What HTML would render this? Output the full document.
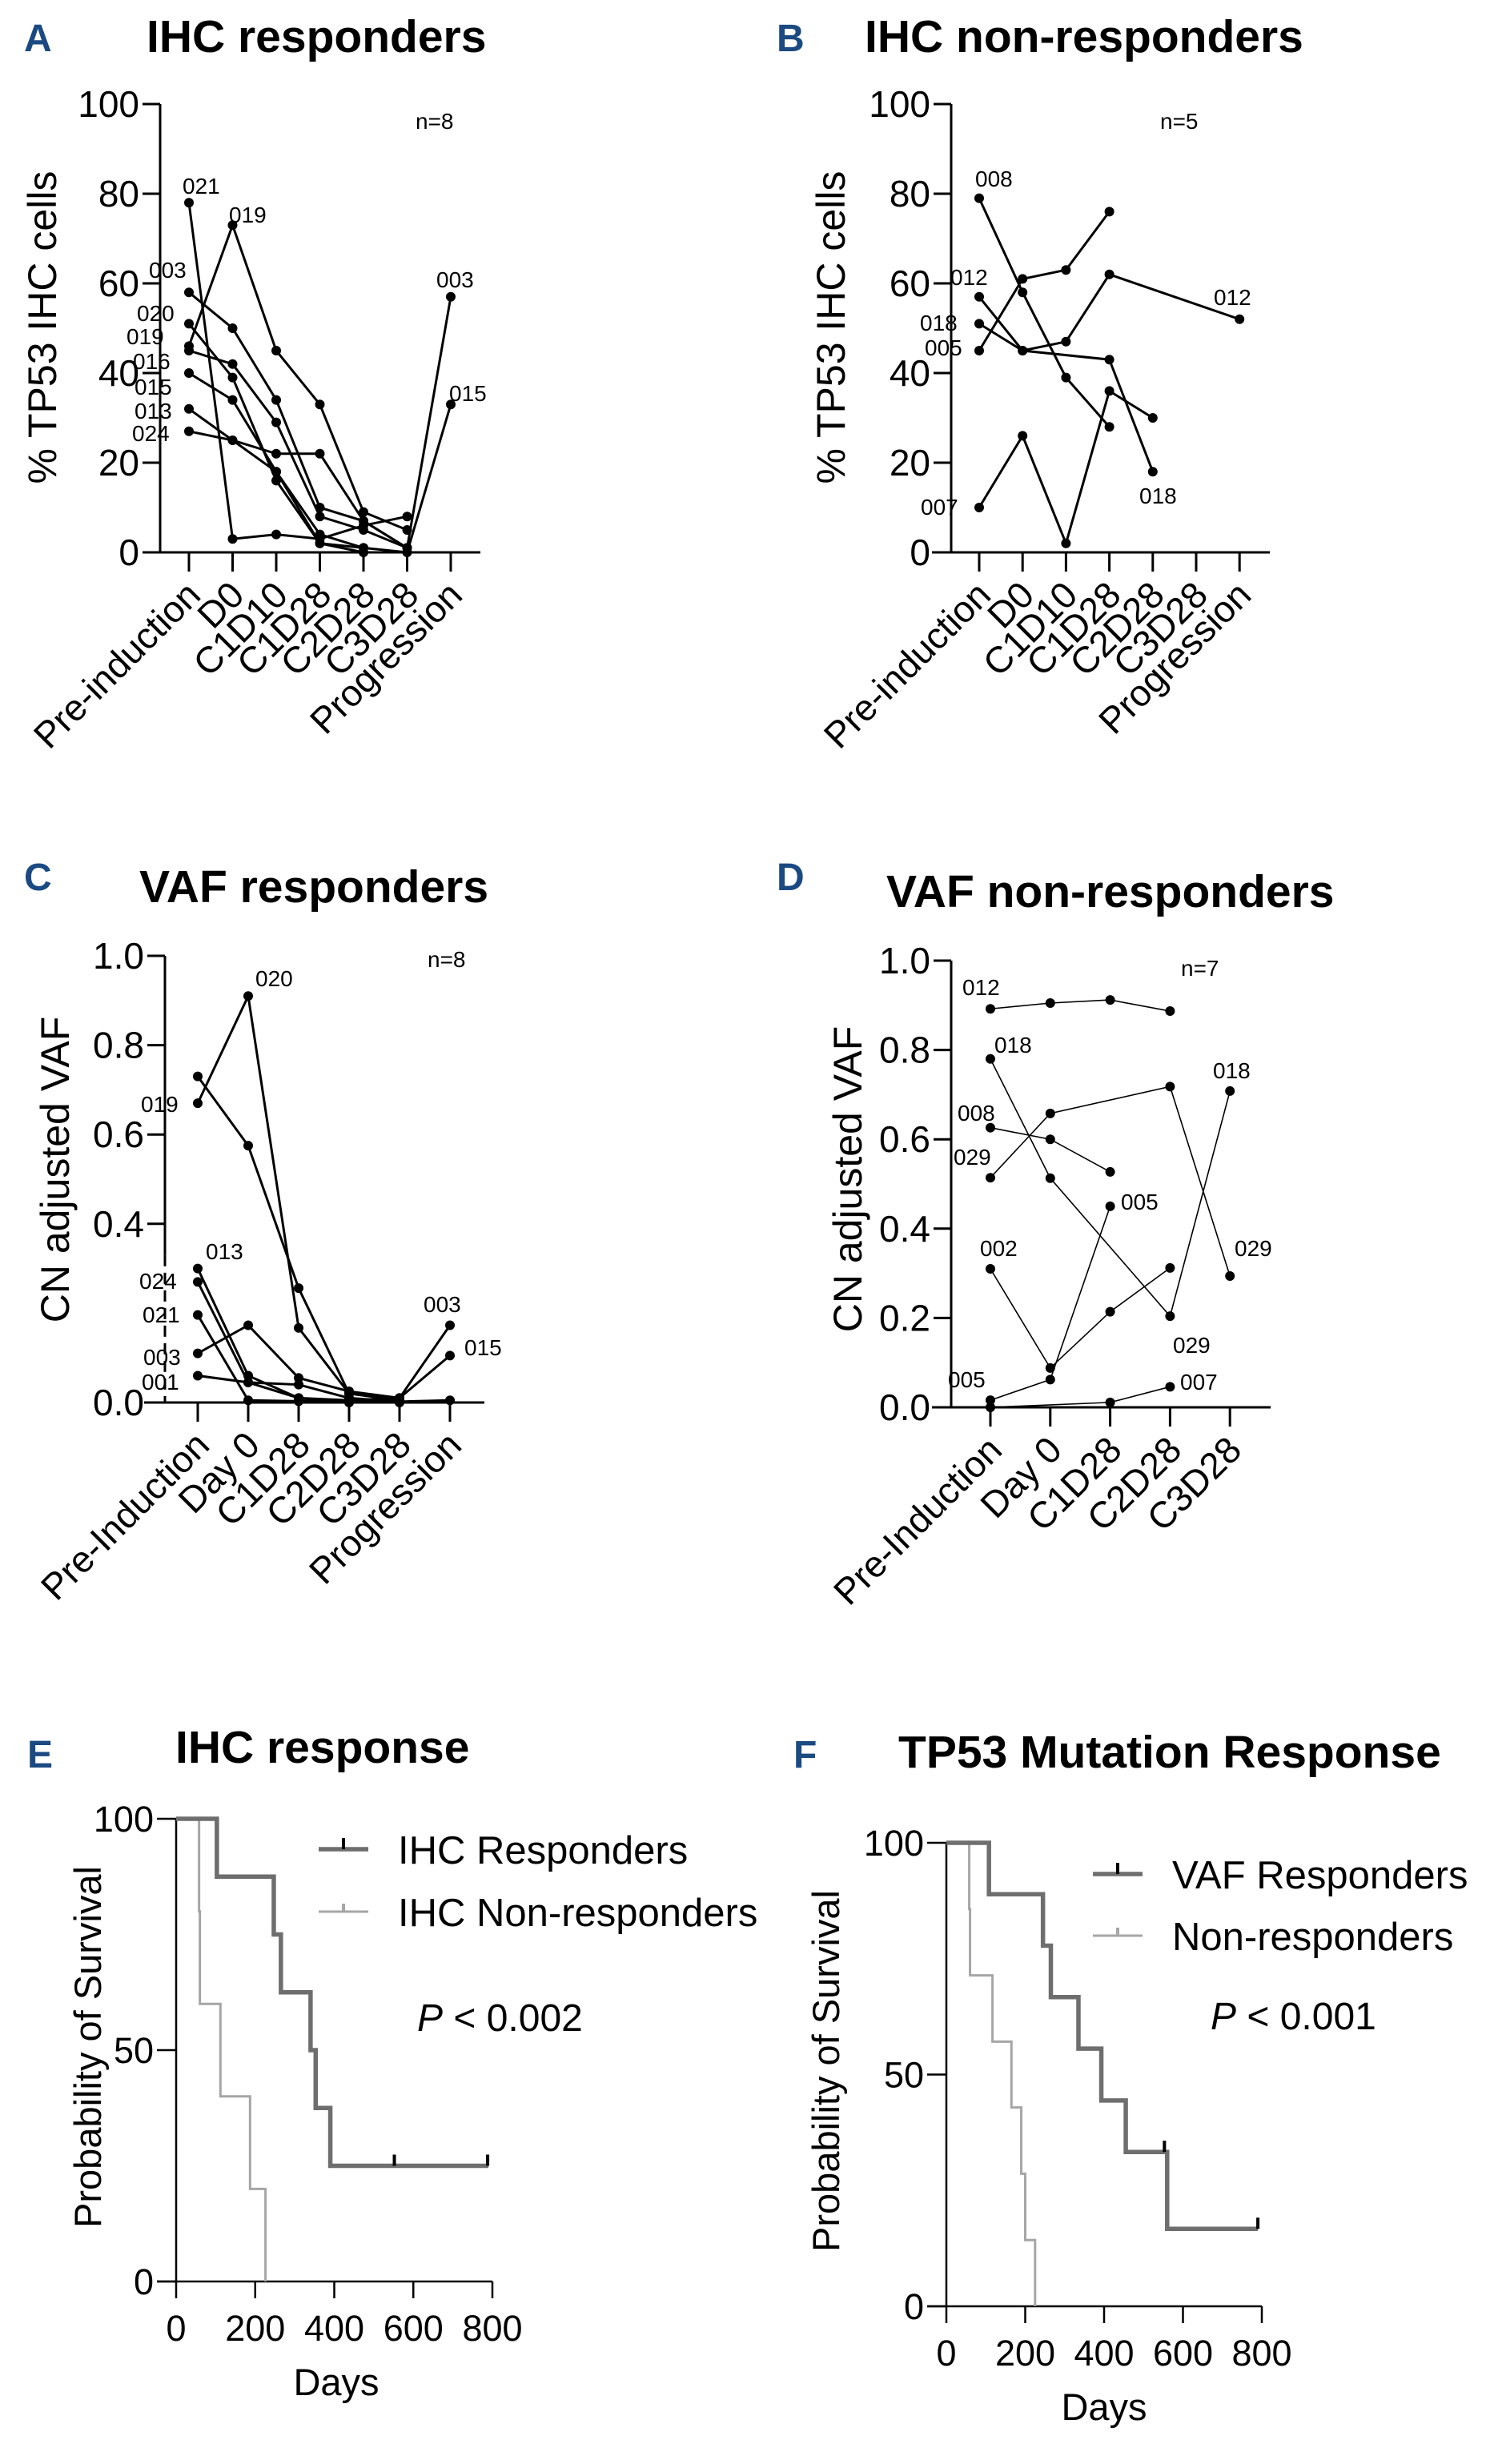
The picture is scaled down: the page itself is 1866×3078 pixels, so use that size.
<!DOCTYPE html>
<html><head><meta charset="utf-8">
<style>
html,body{margin:0;padding:0;background:#fff;}
svg{display:block;}
text{font-family:"Liberation Sans",Arial,sans-serif;}
</style></head>
<body>
<svg id="fig" width="1866" height="3078" viewBox="0 0 1866 3078" xmlns="http://www.w3.org/2000/svg">
<rect width="1866" height="3078" fill="#fff"/>
</svg>
<script>
// ===== Panel A data =====
const catsA = ["Pre-induction","D0","C1D10","C1D28","C2D28","C3D28","Progression"];
const ticksA = [0,20,40,60,80,100];
const sA021 = [78,3,4,3,6,8,null];
const sA019 = [46,73,45,33,9,5,null];
const sA003 = [58,50,34,10,7,1,57];
const sA020 = [51,39,16,2,0,null,null];
const sA016 = [45,42,29,8,5,1,null];
const sA015 = [40,34,18,4,1,0,33];
const sA013 = [32,null,18,2,1,null,null];
const sA024 = [27,25,22,22,7,1,null];
// ===== Panel B data =====
const catsB = ["Pre-induction","D0","C1D10","C1D28","C2D28","C3D28","Progression"];
const ticksB = [0,20,40,60,80,100];
const sB008 = [79,58,39,28,null,null,null];
const sB005 = [45,61,63,76,null,null,null];
const sB012 = [57,45,47,62,null,null,52];
const sB018 = [51,45,null,43,18,null,null];
const sB007 = [10,26,2,36,30,null,null];
// ===== Panel C data =====
const catsC = ["Pre-Induction","Day 0","C1D28","C2D28","C3D28","Progression"];
const ticksC = [0,0.4,0.6,0.8,1.0];
const tickLabelsC = ["0.0","0.4","0.6","0.8","1.0"];
const sC020 = [0.67,0.91,0.167,0.02,0.005,null];
const sC019 = [0.73,0.575,0.256,0.02,0.01,null];
const sC013 = [0.30,0.06,0.01,0.005,0.002,null];
const sC024 = [0.27,0.045,0.04,0.01,0.002,null];
const sC021 = [0.196,0.005,0.003,0.002,0.002,0.005];
const sC003 = [0.11,0.173,0.055,0.025,0.01,0.173];
const sC001 = [0.06,0.045,0.01,0.0,0.0,null];
const sC015 = [null,null,0.003,0.005,0.01,0.105];
// ===== Panel D data =====
const catsD = ["Pre-Induction","Day 0","C1D28","C2D28","C3D28"];
const ticksD = [0,0.2,0.4,0.6,0.8,1.0];
const tickLabelsD = ["0.0","0.2","0.4","0.6","0.8","1.0"];
const sD012 = [0.892,0.905,0.912,0.887,null];
const sD018 = [0.78,0.513,null,0.204,0.708];
const sD008 = [0.626,0.6,0.527,null,null];
const sD029 = [0.514,0.658,null,0.718,0.294];
const sD002 = [0.31,0.088,0.214,0.312,null];
const sD005 = [0.016,0.062,0.45,null,null];
const sD007 = [0.0,null,0.011,0.046,null];
// ===== Panel E data (Kaplan-Meier) =====
const xTicksKM = [0,200,400,600,800];
const yTicksKM = [0,50,100];
const eRespTimes = [0,103,247,265,340,353,390,790];
const eRespSurv = [100,87.5,75,62.5,50,37.5,25,25];
const eRespCensor = [552,788];
const eNonTimes = [0,58,60,112,187,226];
const eNonSurv = [100,80,60,40,20,0];
// ===== Panel F data =====
const fRespTimes = [0,108,245,265,335,393,455,560,790];
const fRespSurv = [100,88.9,77.8,66.7,55.6,44.4,33.3,16.7,16.7];
const fRespCensor = [553,790];
const fNonTimes = [0,58,60,117,165,190,200,225];
const fNonSurv = [100,85.7,71.4,57.1,42.9,28.6,14.3,0];

const NS="http://www.w3.org/2000/svg";
const svg=document.getElementById('fig');
function mk(tag,attrs,parent){const e=document.createElementNS(NS,tag);for(const k in attrs)e.setAttribute(k,attrs[k]);(parent||svg).appendChild(e);return e;}
function txt(s,attrs,parent){const e=mk('text',attrs,parent);e.textContent=s;return e;}

function panelLetter(letter,x,y){
  const t=txt(letter,{x:x,y:y,'font-size':48,'font-weight':'bold',fill:'#1b4a82'});
  
  
}
function title(s,x,y){
  const t=txt(s,{x:x,y:y,'font-size':57,'font-weight':'bold',fill:'#000'});
  
  
}

function linePanel(cfg){
  const g=mk('g',{});
  
  
  const yS=v=>cfg.y0-(v-cfg.vmin)/(cfg.vmax-cfg.vmin)*(cfg.y0-cfg.y1);
  const xS=i=>cfg.xFirst+i*cfg.xStep;
  if(cfg.dashFrom!==undefined){
    const yd=yS(cfg.dashFrom);
    const a=mk('line',{x1:cfg.ax,y1:cfg.y1,x2:cfg.ax,y2:yd,stroke:'#000','stroke-width':3},g);
    
    const b=mk('line',{x1:cfg.ax,y1:yd,x2:cfg.ax,y2:cfg.y0,stroke:'#000','stroke-width':3,'stroke-dasharray':'14 8'},g);
    
  } else {
    const a=mk('line',{x1:cfg.ax,y1:cfg.y1,x2:cfg.ax,y2:cfg.y0,stroke:'#000','stroke-width':3},g);
    
  }
  const xa=mk('line',{x1:cfg.xaStart,y1:cfg.y0,x2:cfg.xaEnd,y2:cfg.y0,stroke:'#000','stroke-width':3},g);
  
  cfg.ticks.forEach((v,i)=>{
    const y=yS(v);
    const tl=mk('line',{x1:cfg.ax-22,y1:y,x2:cfg.ax,y2:y,stroke:'#000','stroke-width':3},g);
    
    const t=txt(cfg.tickLabels?cfg.tickLabels[i]:String(v),{x:cfg.ax-26,y:y+16,'font-size':46,'text-anchor':'end'},g);
    
  });
  cfg.cats.forEach((c,i)=>{
    const x=xS(i);
    const tl=mk('line',{x1:x,y1:cfg.y0,x2:x,y2:cfg.y0+24,stroke:'#000','stroke-width':3},g);
    
    const t=txt(c,{x:0,y:0,'font-size':46,'text-anchor':'end',transform:`translate(${x+17},${cfg.y0+56}) rotate(-45)`},g);
    
  });
  const yt=txt(cfg.yTitle,{x:0,y:0,'font-size':50,'text-anchor':'middle',transform:`translate(${cfg.ytX},${cfg.ytY}) rotate(-90)`},g);
  
  cfg.series.forEach(s=>{
    const pts=[];
    s.vals.forEach((v,i)=>{if(v!==null)pts.push([xS(i),yS(v)]);});
    const pl=mk('polyline',{points:pts.map(p=>p.join(',')).join(' '),fill:'none',stroke:'#000','stroke-width':cfg.lw},g);
    
    pts.forEach(p=>{
      const c=mk('circle',{cx:p[0],cy:p[1],r:cfg.r,fill:'#000'},g);
      
    });
  });
  cfg.labels.forEach(l=>{
    const t=txt(l[0],{x:l[1],y:l[2],'font-size':28,fill:'#000','font-family':'"DejaVu Sans",sans-serif'},g);
    
  });
}

panelLetter('A',30,64); title('IHC responders',183,65);
linePanel({name:'panel-a-ihc-responders',ax:200,y1:130,y0:690,vmin:0,vmax:100,xFirst:236,xStep:54.5,xaStart:180,xaEnd:600,
  ticks:ticksA,cats:catsA,yTitle:'% TP53 IHC cells',ytX:70,ytY:409,lw:3,r:6,
  series:[{id:'021',vals:sA021},{id:'019',vals:sA019},{id:'003',vals:sA003},{id:'020',vals:sA020},{id:'016',vals:sA016},{id:'015',vals:sA015},{id:'013',vals:sA013},{id:'024',vals:sA024}],
  labels:[['021',228,242],['019',286,278],['003',186,347],['020',171,401],['019',158,430],['016',166,461],['015',168,493],['013',168,523],['024',165,551],['003',545,359],['015',561,501],['n=8',519,161]]});

panelLetter('B',970,64); title('IHC non-responders',1080,65);
linePanel({name:'panel-b-ihc-non-responders',ax:1188,y1:130,y0:690,vmin:0,vmax:100,xFirst:1223,xStep:54.2,xaStart:1164,xaEnd:1586,
  ticks:ticksB,cats:catsB,yTitle:'% TP53 IHC cells',ytX:1055,ytY:409,lw:3,r:6,
  series:[{id:'008',vals:sB008},{id:'005',vals:sB005},{id:'012',vals:sB012},{id:'018',vals:sB018},{id:'007',vals:sB007}],
  labels:[['008',1218,233],['012',1187,356],['018',1149,413],['005',1155,444],['007',1150,643],['012',1516,381],['018',1423,629],['n=5',1449,161]]});

panelLetter('C',30,1112); title('VAF responders',174,1127);
linePanel({name:'panel-c-vaf-responders',ax:206,y1:1194,y0:1752,vmin:0,vmax:1,xFirst:247,xStep:63,xaStart:180,xaEnd:605,dashFrom:0.33,
  ticks:ticksC,tickLabels:tickLabelsC,cats:catsC,yTitle:'CN adjusted VAF',ytX:86,ytY:1461,lw:3,r:6,
  series:[{id:'020',vals:sC020},{id:'019',vals:sC019},{id:'013',vals:sC013},{id:'024',vals:sC024},{id:'021',vals:sC021},{id:'003',vals:sC003},{id:'001',vals:sC001},{id:'015',vals:sC015}],
  labels:[['020',319,1232],['019',176,1389],['013',257,1573],['024',174,1610],['021',178,1652],['003',179,1705],['001',177,1736],['003',529,1639],['015',580,1693],['n=8',534,1208]]});

panelLetter('D',970,1112); title('VAF non-responders',1107,1133);
linePanel({name:'panel-d-vaf-non-responders',ax:1188,y1:1200,y0:1758,vmin:0,vmax:1,xFirst:1237,xStep:74.8,xaStart:1164,xaEnd:1587,
  ticks:ticksD,tickLabels:tickLabelsD,cats:catsD,yTitle:'CN adjusted VAF',ytX:1076,ytY:1473,lw:1.6,r:6,
  series:[{id:'012',vals:sD012},{id:'018',vals:sD018},{id:'008',vals:sD008},{id:'029',vals:sD029},{id:'002',vals:sD002},{id:'005',vals:sD005},{id:'007',vals:sD007}],
  labels:[['012',1202,1243],['018',1242,1315],['008',1196,1400],['029',1191,1455],['002',1224,1569],['005',1184,1733],['018',1515,1347],['005',1400,1511],['029',1542,1569],['029',1465,1690],['007',1474,1736],['n=7',1475,1219]]});

function kmPanel(cfg){
  const g=mk('g',{});
  
  
  const xS=d=>cfg.ax+d/800*(cfg.x800-cfg.ax);
  const yS=v=>cfg.y0-v/100*(cfg.y0-cfg.y100);
  const ya=mk('line',{x1:cfg.ax,y1:cfg.y100,x2:cfg.ax,y2:cfg.y0,stroke:'#000','stroke-width':2.5},g);
  
  const xa=mk('line',{x1:cfg.ax-24,y1:cfg.y0,x2:cfg.x800,y2:cfg.y0,stroke:'#000','stroke-width':2.5},g);
  
  yTicksKM.forEach(v=>{
    const y=yS(v);
    const l=mk('line',{x1:cfg.ax-24,y1:y,x2:cfg.ax,y2:y,stroke:'#000','stroke-width':2.5},g);
    
    const t=txt(String(v),{x:cfg.ax-28,y:y+16,'font-size':45,'text-anchor':'end'},g);
    
  });
  xTicksKM.forEach(d=>{
    const x=xS(d);
    const l=mk('line',{x1:x,y1:cfg.y0,x2:x,y2:cfg.y0+21,stroke:'#000','stroke-width':2.5},g);
    
    const t=txt(String(d),{x:x,y:cfg.y0+74,'font-size':45,'text-anchor':'middle'},g);
    
  });
  const xt=txt('Days',{x:cfg.daysX,y:cfg.y0+142,'font-size':47,'text-anchor':'middle'},g);
  
  const yt=txt('Probability of Survival',{x:0,y:0,'font-size':47,'text-anchor':'middle',transform:`translate(${cfg.ytX},${cfg.ytY}) rotate(-90)`},g);
  
  function step(times,surv,color,w,id){
    let d=`M${xS(times[0])},${yS(surv[0])}`;
    for(let i=1;i<times.length;i++){d+=` H${xS(times[i])} V${yS(surv[i])}`;}
    const p=mk('path',{d:d,fill:'none',stroke:color,'stroke-width':w},g);
    
  }
  step(cfg.nonT,cfg.nonS,'#a6a6a6',3,'non-responders');
  step(cfg.respT,cfg.respS,'#6e6e6e',5.5,'responders');
  cfg.censor.forEach(c=>{
    let s=cfg.respS[0];
    for(let i=0;i<cfg.respT.length;i++){if(cfg.respT[i]<=c)s=cfg.respS[i];}
    const l=mk('line',{x1:xS(c),y1:yS(s)-14,x2:xS(c),y2:yS(s),stroke:'#000','stroke-width':4},g);
    
  });
  const lg=mk('g',{},g);
  
  const l1=mk('line',{x1:cfg.lgX,y1:cfg.lgY1,x2:cfg.lgX+62,y2:cfg.lgY1,stroke:'#6e6e6e','stroke-width':5.5},lg);
  
  mk('line',{x1:cfg.lgX+31,y1:cfg.lgY1-14,x2:cfg.lgX+31,y2:cfg.lgY1,stroke:'#000','stroke-width':4},lg);
  const t1=txt(cfg.leg1,{x:cfg.lgX+99,y:cfg.lgY1+18,'font-size':49},lg);
  
  const l2=mk('line',{x1:cfg.lgX,y1:cfg.lgY2,x2:cfg.lgX+62,y2:cfg.lgY2,stroke:'#a6a6a6','stroke-width':3},lg);
  
  mk('line',{x1:cfg.lgX+31,y1:cfg.lgY2-10,x2:cfg.lgX+31,y2:cfg.lgY2,stroke:'#a6a6a6','stroke-width':4},lg);
  const t2=txt(cfg.leg2,{x:cfg.lgX+99,y:cfg.lgY2+18,'font-size':49},lg);
  
  const pt=mk('text',{x:cfg.pX,y:cfg.pY,'font-size':48},g);
  
  const ti=document.createElementNS(NS,'tspan');ti.setAttribute('font-style','italic');ti.textContent='P';pt.appendChild(ti);
  const tr=document.createElementNS(NS,'tspan');tr.textContent=' < '+cfg.pVal;pt.appendChild(tr);
}

panelLetter('E',34,2208); title('IHC response',219,2202);
kmPanel({name:'panel-e-ihc-response',ax:220,x800:615,y100:2272,y0:2850,daysX:420,ytX:126,ytY:2557,
  respT:eRespTimes,respS:eRespSurv,nonT:eNonTimes,nonS:eNonSurv,censor:eRespCensor,
  lgX:398,lgY1:2310,lgY2:2388,leg1:'IHC Responders',leg2:'IHC Non-responders',pX:521,pY:2537,pVal:'0.002'});

panelLetter('F',991,2208); title('TP53 Mutation Response',1122,2208);
kmPanel({name:'panel-f-tp53-mutation-response',ax:1182,x800:1576,y100:2302,y0:2881,daysX:1379,ytX:1048,ytY:2587,
  respT:fRespTimes,respS:fRespSurv,nonT:fNonTimes,nonS:fNonSurv,censor:fRespCensor,
  lgX:1365,lgY1:2341,lgY2:2418,leg1:'VAF Responders',leg2:'Non-responders',pX:1512,pY:2535,pVal:'0.001'});
</script>
</body></html>
